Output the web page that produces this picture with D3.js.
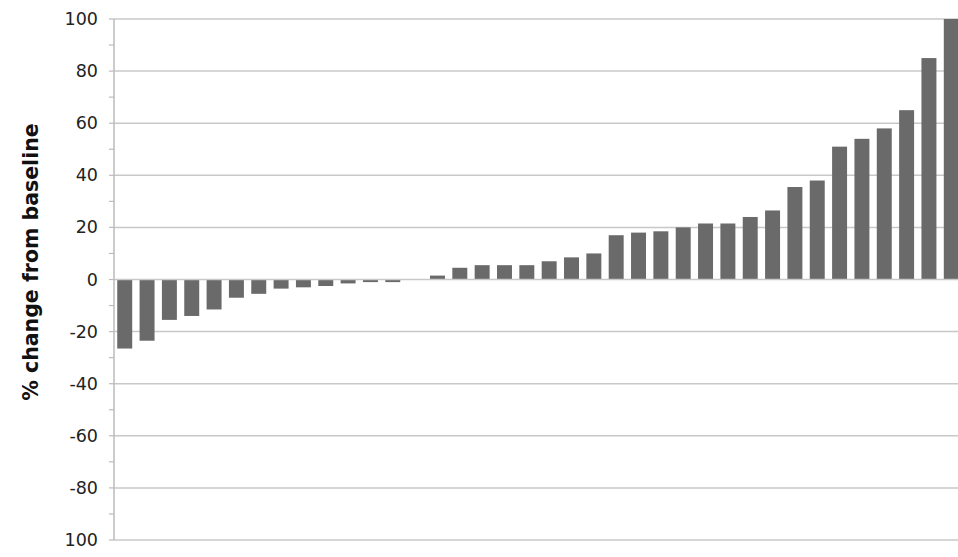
<!DOCTYPE html>
<html><head><meta charset="utf-8">
<script src="https://cdn.jsdelivr.net/npm/d3@7"></script>
<style>body{margin:0;background:#fff}</style>
</head><body>
<svg id="c" width="958" height="557"></svg>
<script>
// % change from baseline per patient, sorted
var values = [-26.5, -23.5, -15.5, -14, -11.5, -7, -5.5, -3.5, -3, -2.5, -1.5, -1, -1, 0,
  1.5, 4.5, 5.5, 5.5, 5.5, 7, 8.5, 10, 17, 18, 18.5, 20, 21.5, 21.5, 24, 26.5,
  35.5, 38, 51, 54, 58, 65, 85, 100];
var ticks = [100, 80, 60, 40, 20, 0, -20, -40, -60, -80, -100];
var tickLabels = ["100", "80", "60", "40", "20", "0", "-20", "-40", "-60", "-80", "100"];

var svg = d3.select("#c");
var mLeft = 114, mRight = 961, mTop = 19, mBottom = 540;

var x = d3.scaleBand().domain(d3.range(values.length)).range([mLeft + 1, mRight]).paddingInner(0.33).paddingOuter(0.1);
var y = d3.scaleLinear().domain([-100, 100]).range([mBottom, mTop]);

svg.append("g").selectAll("line").data(ticks.filter(d => d !== 0)).enter().append("line")
  .attr("x1", mLeft).attr("x2", mRight).attr("y1", d => y(d)).attr("y2", d => y(d))
  .attr("stroke", "#c8c8c8").attr("stroke-width", 1.5);

svg.append("g").selectAll("rect").data(values).enter().append("rect")
  .attr("x", (d, i) => x(i)).attr("width", x.bandwidth())
  .attr("y", d => y(Math.max(0, d))).attr("height", d => Math.abs(y(d) - y(0)))
  .attr("fill", "#6a6a6a");

svg.append("line").attr("x1", mLeft).attr("x2", mRight).attr("y1", y(0)).attr("y2", y(0))
  .attr("stroke", "#c8c8c8").attr("stroke-width", 1.5);

// axis line and minor ticks
svg.append("line").attr("x1", mLeft).attr("x2", mLeft).attr("y1", mTop).attr("y2", mBottom)
  .attr("stroke", "#bbb").attr("stroke-width", 1.5);
svg.append("g").selectAll("line").data(d3.range(-100, 101, 10)).enter().append("line")
  .attr("x1", mLeft - 5).attr("x2", mLeft).attr("y1", d => y(d)).attr("y2", d => y(d))
  .attr("stroke", "#bbb").attr("stroke-width", 1.2);

svg.append("g").selectAll("text").data(ticks).enter().append("text")
  .attr("x", 98).attr("y", d => y(d) + 6).attr("text-anchor", "end")
  .attr("font-family", "DejaVu Sans, sans-serif").attr("font-size", 17.5).attr("fill", "#222")
  .text((d, i) => tickLabels[i]);

svg.append("text").attr("transform", "translate(38,262) rotate(-90)")
  .attr("text-anchor", "middle").attr("font-family", "DejaVu Sans, sans-serif")
  .attr("font-size", 20.5).attr("font-weight", "bold").attr("fill", "#111")
  .text("% change from baseline");
</script>
</body></html>
